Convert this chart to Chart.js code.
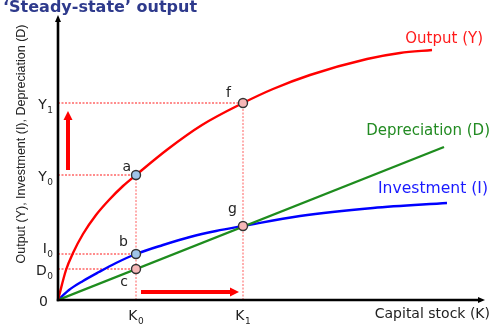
<!DOCTYPE html>
<html>
<head>
<meta charset="utf-8">
<script src="https://cdn.jsdelivr.net/npm/chart.js@4.4.1/dist/chart.umd.min.js"></script>
<style>
  html, body { margin: 0; padding: 0; background: #fff; }
  canvas { display: block; }
</style>
</head>
<body>
<canvas id="steadyChart" width="496" height="326"></canvas>
<script>
// capital stock axis runs 0..425, output axis 0..283
const outputK = [0, 8, 15, 25, 38, 51, 65, 78, 110, 144, 185, 215, 252, 309, 342, 374];
const outputY = [0, 30, 47, 66, 85, 100, 114, 125, 151, 175, 197, 211, 225, 241, 247, 250];
const investK = [0, 11, 25, 41, 58, 78, 105, 132, 158, 185, 242, 315, 389];
const investI = [0, 10, 19, 28, 37, 46, 55, 63, 69, 74, 84, 92, 97];
const deprecK = [0, 386];
const deprecD = [0, 153];

// labelled points a, b, c, f, g
const pointNames = ['a', 'b', 'c', 'f', 'g'];
const pointK = [78, 78, 78, 185, 185];
const pointV = [125, 46, 31, 197, 74];

// tick labels (main letter + subscript)
const yTickLabels = [['Y', '1'], ['Y', '0'], ['I', '0'], ['D', '0'], ['0', '']];
const yTickValues = [197, 125, 46, 31, 0];
const xTickLabels = [['K', '0'], ['K', '1']];
const xTickValues = [78, 185];

const toXY = (xs, ys) => xs.map((x, i) => ({ x: x, y: ys[i] }));

// dotted guides: horizontal to the y axis for a, b, c, f; vertical down for a and f
const guideSets = [];
[0, 1, 2, 3].forEach(i => {
    guideSets.push([{ x: 0, y: pointV[i] }, { x: pointK[i], y: pointV[i] }]);
});
[0, 3].forEach(i => {
    guideSets.push([{ x: pointK[i], y: 0 }, { x: pointK[i], y: pointV[i] }]);
});

const pointFill = pointNames.map(n => (n === 'a' || n === 'b') ? '#9fc4e8' : '#f6b7b7');

const datasets = [{
    label: 'Points',
    data: toXY(pointK, pointV),
    showLine: false,
    pointRadius: 4.5,
    pointBackgroundColor: pointFill,
    pointBorderColor: '#333',
    pointBorderWidth: 1.4,
    order: 0
}, {
    label: 'Output (Y)',
    data: toXY(outputK, outputY),
    borderColor: '#ff0000',
    borderWidth: 2.4,
    pointRadius: 0,
    cubicInterpolationMode: 'monotone',
    order: 1
}, {
    label: 'Depreciation (D)',
    data: toXY(deprecK, deprecD),
    borderColor: '#1e8c1e',
    borderWidth: 2.4,
    pointRadius: 0,
    order: 1
}, {
    label: 'Investment (I)',
    data: toXY(investK, investI),
    borderColor: '#0000ff',
    borderWidth: 2.4,
    pointRadius: 0,
    cubicInterpolationMode: 'monotone',
    order: 1
}];

guideSets.forEach((g, i) => {
    datasets.push({
        label: 'guide',
        data: g,
        borderColor: i < 4 ? 'rgba(255, 0, 0, 0.9)' : 'rgba(255, 40, 40, 0.75)',
        borderWidth: 1,
        borderDash: [2, 1.5],
        pointRadius: 0,
        order: 2
    });
});

function arrow(ctx, x1, y1, x2, y2, w, headLen, headW, color) {
    const ang = Math.atan2(y2 - y1, x2 - x1);
    const bx = x2 - Math.cos(ang) * headLen, by = y2 - Math.sin(ang) * headLen;
    ctx.strokeStyle = color;
    ctx.fillStyle = color;
    ctx.lineWidth = w;
    ctx.beginPath();
    ctx.moveTo(x1, y1);
    ctx.lineTo(bx, by);
    ctx.stroke();
    ctx.beginPath();
    ctx.moveTo(x2, y2);
    ctx.lineTo(bx - Math.sin(ang) * headW / 2, by + Math.cos(ang) * headW / 2);
    ctx.lineTo(bx + Math.sin(ang) * headW / 2, by - Math.cos(ang) * headW / 2);
    ctx.closePath();
    ctx.fill();
}

function subText(ctx, main, sub, left, base) {
    ctx.font = '14px "DejaVu Sans"';
    ctx.fillText(main, left, base);
    const w = ctx.measureText(main).width;
    ctx.font = '9px "DejaVu Sans"';
    ctx.fillText(sub, left + w + 0.5, base + 4);
}

function subWidth(ctx, main, sub) {
    ctx.font = '14px "DejaVu Sans"';
    const w = ctx.measureText(main).width;
    ctx.font = '9px "DejaVu Sans"';
    return w + (sub ? ctx.measureText(sub).width + 0.5 : 0);
}

const sketchPlugin = {
    id: 'sketch',
    afterDatasetsDraw(chart) {
        const ctx = chart.ctx;
        const x = chart.scales.x, y = chart.scales.y;
        const x0 = x.getPixelForValue(0), y0 = y.getPixelForValue(0);
        const xEnd = x.getPixelForValue(x.max), yTop = y.getPixelForValue(y.max);
        ctx.save();

        // axes with arrow heads
        arrow(ctx, x0, y0 + 1.2, x0, yTop - 2, 2.6, 7, 6, '#000');
        arrow(ctx, x0 - 1.2, y0, xEnd + 2, y0, 2.6, 7, 6, '#000');

        // red movement arrows
        arrow(ctx, x.getPixelForValue(10), y.getPixelForValue(130), x.getPixelForValue(10), y.getPixelForValue(189), 4, 9, 9, '#ff0000');
        arrow(ctx, x.getPixelForValue(83), y.getPixelForValue(8), x.getPixelForValue(181), y.getPixelForValue(8), 4, 9, 9, '#ff0000');

        // point letters
        const offs = { a: [-5, -4], b: [-8, -8], c: [-8, 17], f: [-12, -6], g: [-6, -13] };
        ctx.fillStyle = '#222';
        ctx.font = '14px "DejaVu Sans"';
        ctx.textAlign = 'right';
        ctx.textBaseline = 'alphabetic';
        pointNames.forEach((n, i) => {
            const px = x.getPixelForValue(pointK[i]), py = y.getPixelForValue(pointV[i]);
            ctx.fillText(n, px + offs[n][0], py + offs[n][1]);
        });

        // tick labels with subscripts
        ctx.textAlign = 'left';
        yTickLabels.forEach((lab, i) => {
            const py = y.getPixelForValue(yTickValues[i]);
            const w = subWidth(ctx, lab[0], lab[1]);
            const right = lab[1] ? x0 - 5 : x0 - 10;
            const base = lab[0] === 'I' ? py - 1 : py + 6;
            subText(ctx, lab[0], lab[1], right - w, base);
        });
        xTickLabels.forEach((lab, i) => {
            const px = x.getPixelForValue(xTickValues[i]);
            const w = subWidth(ctx, lab[0], lab[1]);
            subText(ctx, lab[0], lab[1], px - w / 2, y0 + 20);
        });

        // curve labels
        ctx.textAlign = 'right';
        ctx.font = '15px "DejaVu Sans"';
        ctx.fillStyle = '#ff1a1a';
        ctx.fillText('Output (Y)', xEnd, 43);
        ctx.fillStyle = '#228b22';
        ctx.fillText('Depreciation (D)', xEnd + 7, 135);
        ctx.fillStyle = '#1a1aff';
        ctx.font = '15.6px "DejaVu Sans"';
        ctx.fillText('Investment (I)', xEnd + 5, 193);
        ctx.fillStyle = '#222';
        ctx.font = '14px "DejaVu Sans"';
        ctx.fillText('Capital stock (K)', xEnd + 7, y0 + 18);

        // y axis title
        ctx.save();
        ctx.translate(22, 144);
        ctx.rotate(-Math.PI / 2);
        ctx.textAlign = 'center';
        ctx.textBaseline = 'middle';
        ctx.font = '12.5px "Liberation Sans"';
        ctx.fillStyle = '#222';
        ctx.fillText('Output (Y), Investment (I), Depreciation (D)', 0, 0);
        ctx.restore();

        // title
        ctx.textAlign = 'left';
        ctx.font = 'bold 16px "DejaVu Sans"';
        ctx.fillStyle = '#2e3a8c';
        ctx.fillText('\u2018Steady-state\u2019 output', 3, 12);

        ctx.restore();
    }
};

const steadyChart = new Chart(document.getElementById('steadyChart'), {
    type: 'line',
    data: { datasets: datasets },
    options: {
        responsive: false,
        animation: false,
        events: [],
        layout: { padding: { left: 58, right: 13, top: 17, bottom: 26 } },
        plugins: { legend: { display: false }, tooltip: { enabled: false } },
        scales: {
            x: { type: 'linear', min: 0, max: 425, display: false },
            y: { type: 'linear', min: 0, max: 283, display: false }
        }
    },
    plugins: [sketchPlugin]
});
</script>
</body>
</html>
